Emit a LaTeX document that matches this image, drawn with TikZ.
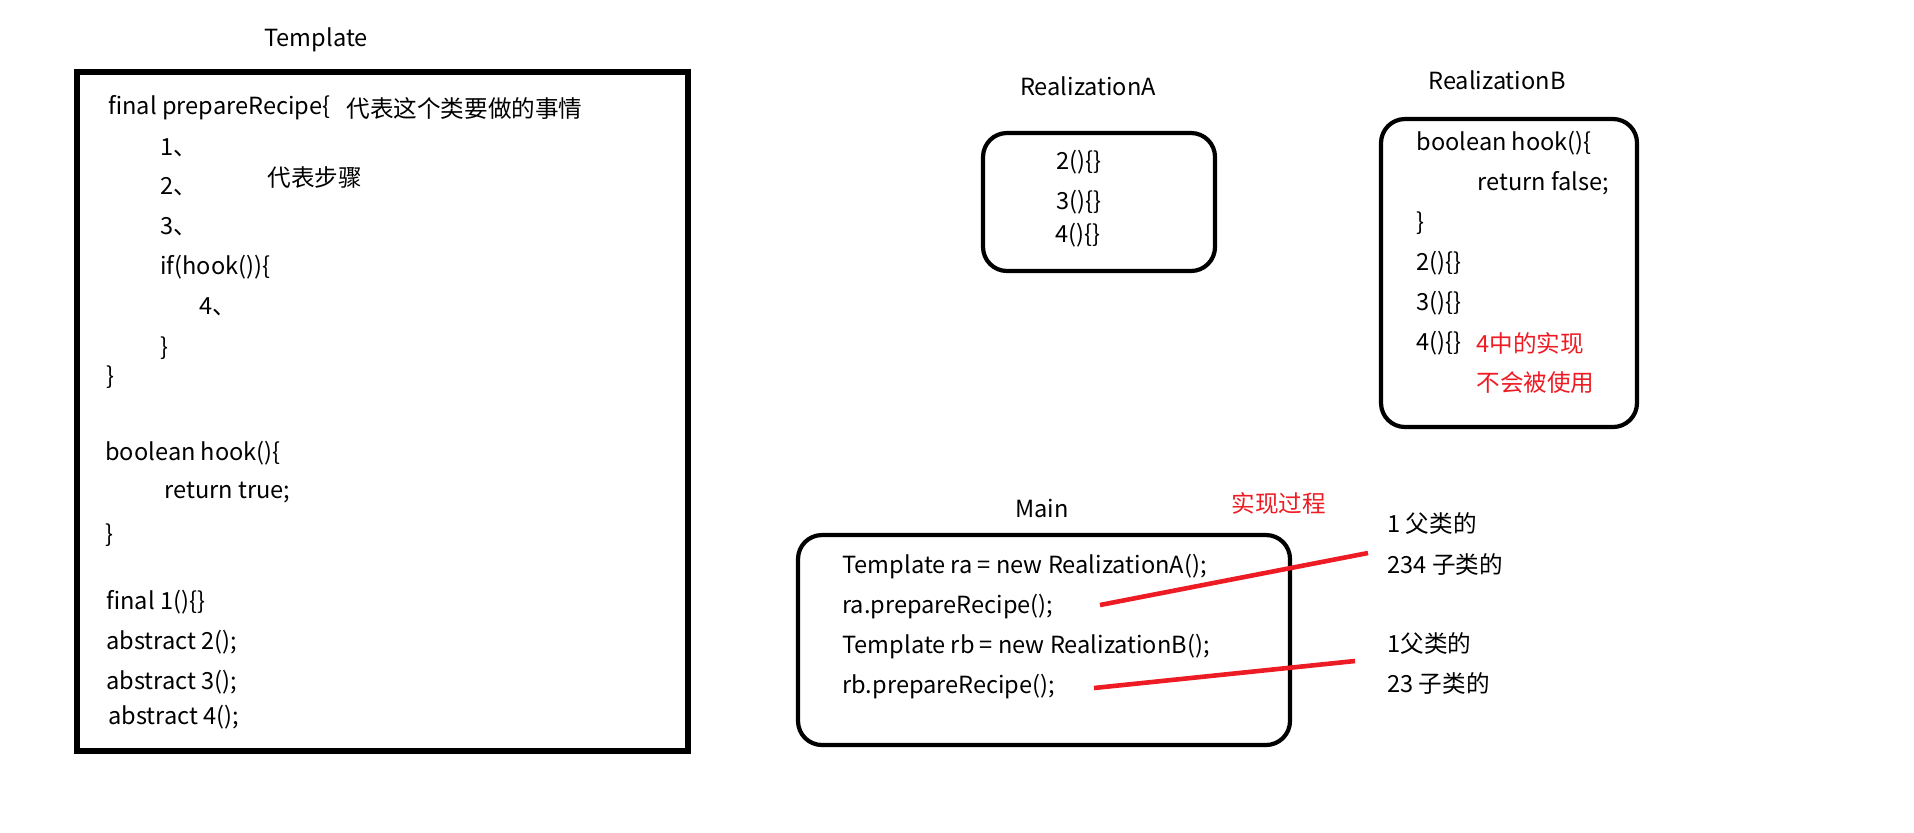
\documentclass[tikz,border=0pt]{standalone}
\usepackage{fontspec}
\setmainfont{Noto Sans CJK SC}
\definecolor{pred}{HTML}{ED1C24}
\begin{document}
\begin{tikzpicture}[x=0.5pt,y=-0.5pt,
  txt/.style={anchor=west,inner sep=0pt,font=\fontsize{11.8pt}{13pt}\selectfont},
  ttl/.style={inner sep=0pt,font=\fontsize{11.8pt}{13pt}\selectfont},
  rtxt/.style={txt,text=pred},
  sqbox/.style={draw,line width=2.6pt},
  rbox/.style={draw,line width=2.1pt,rounded corners=12pt},
  redline/.style={draw=pred,line width=2.3pt}]
\useasboundingbox (0,0) rectangle (1914,832);
% Template
\node[ttl] (tt) at (316,40) {Template};
\draw[sqbox] (77,72) rectangle (688,751);
\node[txt] (t1) at (108,108) {final prepareRecipe\{};
\node[txt] (t1c) at (346,108) {代表这个类要做的事情};
\node[txt] (t2) at (160,148) {1、};
\node[txt] (t3) at (160,187) {2、};
\node[txt] (t3c) at (267,178) {代表步骤};
\node[txt] (t4) at (160,227) {3、};
\node[txt] (t5) at (160,267) {if(hook())\{};
\node[txt] (t6) at (199,307) {4、};
\node[txt] (t7) at (160,348) {\}};
\node[txt] (t8) at (106,377) {\}};
\node[txt] (t9) at (105,453) {boolean hook()\{};
\node[txt] (t10) at (164,493) {return true;};
\node[txt] (t11) at (105,535) {\}};
\node[txt] (t12) at (106,602) {final 1()\{\}};
\node[txt] (t13) at (106,642) {abstract 2();};
\node[txt] (t14) at (106,682) {abstract 3();};
\node[txt] (t15) at (108,717) {abstract 4();};
% RealizationA
\node[ttl] (rat) at (1088,86) {RealizationA};
\draw[rbox] (983,133) rectangle (1215,271);
\node[txt] (a2) at (1056,162) {2()\{\}};
\node[txt] (a3) at (1056,202) {3()\{\}};
\node[txt] (a4) at (1055,235) {4()\{\}};
% RealizationB
\node[ttl] (rbt) at (1497,80) {RealizationB};
\draw[rbox] (1381,119) rectangle (1637,427);
\node[txt] (b1) at (1416,143) {boolean hook()\{};
\node[txt] (b2) at (1477,183) {return false;};
\node[txt] (b3) at (1416,223) {\}};
\node[txt] (b4) at (1416,263) {2()\{\}};
\node[txt] (b5) at (1416,303) {3()\{\}};
\node[txt] (b6) at (1416,343) {4()\{\}};
\node[rtxt] (b7) at (1476,343) {4中的实现};
\node[rtxt] (b8) at (1476,383) {不会被使用};
% Main
\node[ttl] (mt) at (1042,508) {Main};
\node[rtxt] (proc) at (1231,503) {实现过程};
\draw[rbox] (798,535) rectangle (1290,745);
\node[txt] (m1) at (842,567) {Template ra = new RealizationA();};
\node[txt] (m2) at (842,607) {ra.prepareRecipe();};
\node[txt] (m3) at (842,647) {Template rb = new RealizationB();};
\node[txt] (m4) at (842,687) {rb.prepareRecipe();};
\node[txt] (n1) at (1387,524) {1 父类的};
\node[txt] (n2) at (1387,564) {234 子类的};
\node[txt] (n3) at (1387,644) {1父类的};
\node[txt] (n4) at (1387,683) {23 子类的};
\coordinate (l1a) at (1100,605);
\coordinate (l1b) at (1368,553);
\coordinate (l2a) at (1094,688);
\coordinate (l2b) at (1355,661);
\draw[redline] (l1a) -- (l1b);
\draw[redline] (l2a) -- (l2b);
\end{tikzpicture}
\end{document}
